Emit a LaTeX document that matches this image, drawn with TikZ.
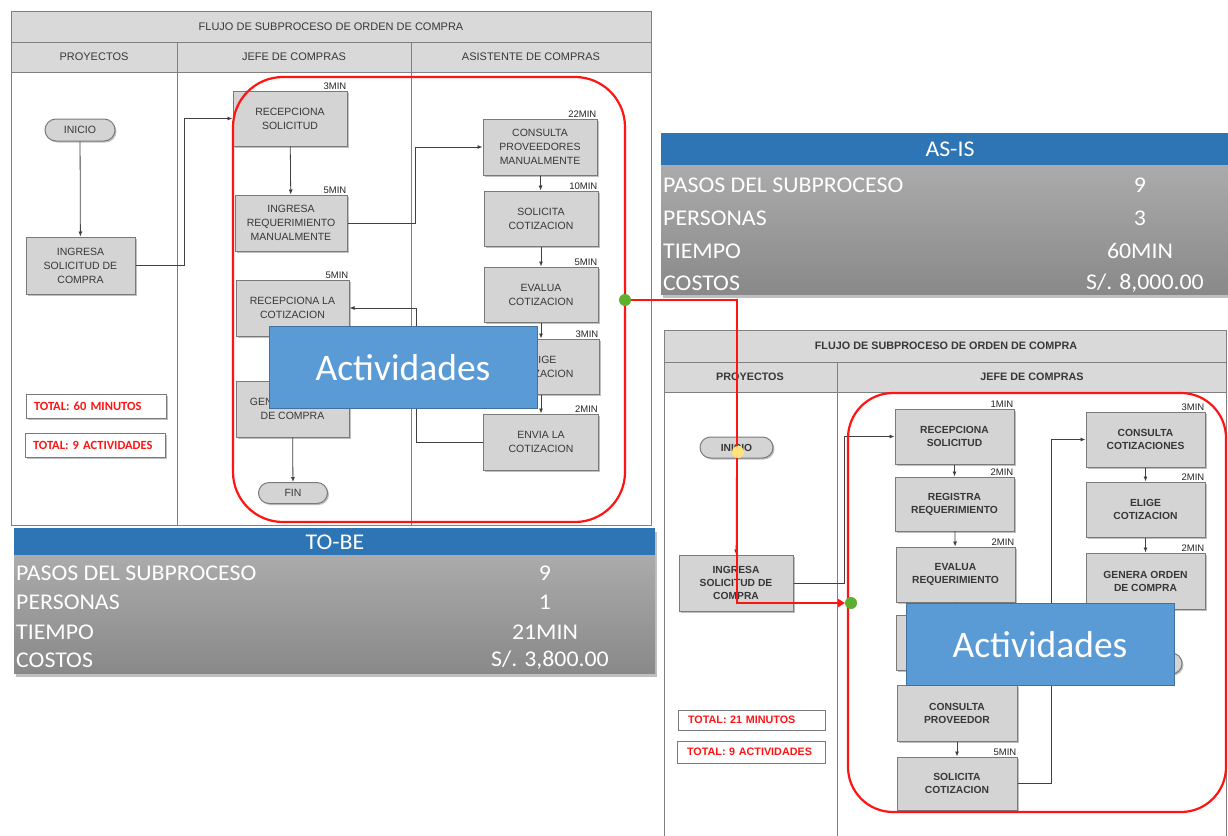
\documentclass[tikz,border=0pt]{standalone}
\usepackage{fontspec}
\setmainfont{Liberation Sans}
\newfontfamily\calib{Carlito}
\newfontfamily\calibw{Carlito}[FakeStretch=1.06]
\usetikzlibrary{shapes.misc,shadows,arrows.meta}
\definecolor{boxfill}{HTML}{D4D4D4}
\definecolor{boxline}{HTML}{7A7A7A}
\definecolor{boxtext}{HTML}{383838}
\definecolor{hdrfill}{HTML}{D9D9D9}
\definecolor{frameline}{HTML}{808080}
\definecolor{connclr}{HTML}{404040}
\definecolor{redclr}{HTML}{FF1414}
\definecolor{tabblue}{HTML}{2E75B6}
\definecolor{tabtop}{HTML}{ABABAB}
\definecolor{tabbot}{HTML}{898989}
\definecolor{actfill}{HTML}{5B9BD5}
\definecolor{actline}{HTML}{41719C}
\definecolor{dotgreen}{HTML}{5DAF2E}
\definecolor{dotyellow}{HTML}{FFE27A}
\begin{document}
\begin{tikzpicture}[x=1pt,y=-1pt,
  shad/.style={drop shadow={shadow xshift=1.5pt,shadow yshift=-1.5pt,opacity=.35,fill=black!70}},
  gbox/.style={rectangle,draw=boxline,fill=boxfill,line width=1pt,align=center,text=boxtext,inner sep=1pt,font=\fontsize{10.5}{14}\selectfont,shad},
  gboxb/.style={gbox,font=\bfseries\fontsize{10.3}{13}\selectfont},
  term/.style={rounded rectangle,draw=boxline,fill=boxfill,line width=1pt,text=boxtext,inner sep=1pt,font=\fontsize{10.5}{12}\selectfont,shad},
  minlab/.style={anchor=south east,inner sep=1pt,text=black!85,font=\fontsize{9.5}{10}\selectfont},
  tmin/.style={label={[minlab]north east:#1}},
  arr/.style={draw=connclr,line width=0.8pt,-{Latex[length=5pt,width=4pt]}},
  frame/.style={draw=frameline,line width=1pt},
  hdr/.style={font=\fontsize{11}{12}\selectfont,text=boxtext},
  hdrb/.style={font=\bfseries\fontsize{10.8}{12}\selectfont,text=boxtext},
  redbox/.style={draw=redclr,line width=2.2pt},
  act/.style={rectangle,draw=actline,fill=actfill,line width=1pt,text=white,font=\calib\fontsize{37.5}{40}\selectfont,minimum width=268,minimum height=82},
  tot/.style={rectangle,draw=boxline,fill=white,line width=1pt,text=redclr,align=left,font=\calib\bfseries\fontsize{12.5}{13}\selectfont,shad},
  totb/.style={rectangle,draw=boxline,fill=white,line width=1pt,text=redclr,align=left,font=\bfseries\fontsize{10.8}{12}\selectfont},
  tabtxt/.style={text=white,font=\calibw\fontsize{22.5}{24}\selectfont,inner sep=0pt},
  gdot/.style={circle,fill=dotgreen,minimum size=12pt,inner sep=0pt},
  ydot/.style={circle,fill=dotyellow,minimum size=12pt,inner sep=0pt}
]
\fill[white] (0,0) rectangle (1228,835);
\useasboundingbox (0,0) rectangle (1228,835);

% ---------------- left chart ----------------
\filldraw[frame,fill=hdrfill] (11,11) rectangle (651,42);
\filldraw[frame,fill=hdrfill] (11,42) rectangle (651,72);
\draw[frame] (11,72) rectangle (651,525);
\draw[frame] (177,42) -- (177,525);
\draw[frame] (411,42) -- (411,525);
\node[hdr] (lt) at (331,27) {FLUJO DE SUBPROCESO DE ORDEN DE COMPRA};
\node[hdr] (lp) at (94,57) {PROYECTOS};
\node[hdr] (lj) at (294,57) {JEFE DE COMPRAS};
\node[hdr] (la) at (531,57) {ASISTENTE DE COMPRAS};

\node[term,minimum width=72,minimum height=22] (ini1) at (80,130) {INICIO};
\node[gbox,minimum width=109,minimum height=57] (ing1) at (80.5,265.5) {INGRESA\\SOLICITUD DE\\COMPRA};
\node[gbox,minimum width=114,minimum height=55,tmin=3MIN] (rec1) at (290,118.5) {RECEPCIONA\\SOLICITUD};
\node[gbox,minimum width=112,minimum height=56,tmin=5MIN] (ireq1) at (291,223) {INGRESA\\REQUERIMIENTO\\MANUALMENTE};
\node[gbox,minimum width=113,minimum height=56,tmin=5MIN] (reccot1) at (292.5,308) {RECEPCIONA LA\\COTIZACION};
\node[gbox,minimum width=113,minimum height=56] (gen1) at (292.5,409) {GENERA ORDEN\\DE COMPRA};
\node[term,minimum width=71,minimum height=21] (fin1) at (293,493) {FIN};
\node[gbox,minimum width=114,minimum height=56,tmin=22MIN] (cons1) at (540,147) {CONSULTA\\PROVEEDORES\\MANUALMENTE};
\node[gbox,minimum width=114,minimum height=55,tmin=10MIN] (sol1) at (541,218.5) {SOLICITA\\COTIZACION};
\node[gbox,minimum width=114,minimum height=55,tmin=5MIN] (eva1) at (541,294.5) {EVALUA\\COTIZACION};
\node[gbox,minimum width=116,minimum height=55,tmin=3MIN] (eli1) at (541,366.5) {ELIGE\\COTIZACION};
\node[gbox,minimum width=115,minimum height=56,tmin=2MIN] (env1) at (541,442) {ENVIA LA\\COTIZACION};

\draw[arr] (ini1) -- (ing1);
\draw[arr] (ing1.east) -- ++(49,0) |- (rec1.west);
\draw[arr] (rec1) -- (ireq1);
\draw[arr] (ireq1.east) -- ++(68,0) |- (cons1.west);
\draw[arr] (cons1) -- (sol1);
\draw[arr] (sol1) -- (eva1);
\draw[arr] (eva1) -- (eli1);
\draw[arr] (eli1) -- (env1);
\draw[arr] (env1.west) -- ++(-67,0) |- (reccot1.east);
\draw[arr] (reccot1) -- (gen1);
\draw[arr] (gen1) -- (fin1);

\node[tot,minimum width=140,minimum height=24,text width=124,inner xsep=8pt] (tm1) at (96,406) {TOTAL: 60 MINUTOS};
\node[tot,minimum width=140,minimum height=24,text width=124,inner xsep=8pt] (ta1) at (95,445) {TOTAL: 9 ACTIVIDADES};

\draw[redbox,rounded corners=50pt] (233,77) rectangle (625,522);

% ---------------- AS-IS table ----------------
\fill[black,opacity=.25] (663,137) rectangle (1228,298);
\fill[tabblue] (661,133) rectangle (1228,165);
\shade[top color=tabtop,bottom color=tabbot] (661,165) rectangle (1228,294);
\node[tabtxt] (ash) at (950,149) {AS-IS};
\node[tabtxt,anchor=west] (as1) at (663,185) {PASOS DEL SUBPROCESO};
\node[tabtxt,anchor=west] (as2) at (663,218) {PERSONAS};
\node[tabtxt,anchor=west] (as3) at (663,251) {TIEMPO};
\node[tabtxt,anchor=west] (as4) at (663,283) {COSTOS};
\node[tabtxt] (av1) at (1140,185) {9};
\node[tabtxt] (av2) at (1140,218) {3};
\node[tabtxt] (av3) at (1140,251) {60MIN};
\node[tabtxt,anchor=east] (av4) at (1204,283) {S/.\hspace{7pt}8,000.00};

% ---------------- TO-BE table ----------------
\fill[black,opacity=.25] (16,532) rectangle (657,677);
\fill[tabblue] (14,528) rectangle (655,555);
\shade[top color=tabtop,bottom color=tabbot] (14,555) rectangle (655,673);
\node[tabtxt] (tbh) at (335,542) {TO-BE};
\node[tabtxt,anchor=west] (tb1) at (16,573) {PASOS DEL SUBPROCESO};
\node[tabtxt,anchor=west] (tb2) at (16,602) {PERSONAS};
\node[tabtxt,anchor=west] (tb3) at (16,632) {TIEMPO};
\node[tabtxt,anchor=west] (tb4) at (16,660) {COSTOS};
\node[tabtxt] (tv1) at (545,573) {9};
\node[tabtxt] (tv2) at (545,602) {1};
\node[tabtxt] (tv3) at (545,632) {21MIN};
\node[tabtxt,anchor=east] (tv4) at (609,660) {S/.\hspace{7pt}3,800.00};

% ---------------- right chart ----------------
\filldraw[frame,fill=hdrfill] (664,330) rectangle (1226,362);
\filldraw[frame,fill=hdrfill] (664,362) rectangle (1226,392);
\draw[frame] (664,392) rectangle (1226,850);
\draw[frame] (837,362) -- (837,850);
\node[hdrb] (rt) at (946,346) {FLUJO DE SUBPROCESO DE ORDEN DE COMPRA};
\node[hdrb] (rp) at (750,377) {PROYECTOS};
\node[hdrb] (rj) at (1032,377) {JEFE DE COMPRAS};

\node[term,font=\bfseries\fontsize{10.3}{12}\selectfont,minimum width=75,minimum height=21] (ini2) at (736.5,447.5) {INICIO};
\node[gboxb,minimum width=114,minimum height=56] (ing2) at (736,583) {INGRESA\\SOLICITUD DE\\COMPRA};
\node[gboxb,minimum width=119,minimum height=55,tmin=1MIN] (rec2) at (954.5,436.5) {RECEPCIONA\\SOLICITUD};
\node[gboxb,minimum width=119,minimum height=54,tmin=2MIN] (reg2) at (954.5,504) {REGISTRA\\REQUERIMIENTO};
\node[gboxb,minimum width=119,minimum height=55,tmin=2MIN] (eva2) at (955.5,574.5) {EVALUA\\REQUERIMIENTO};
\node[gboxb,minimum width=119,minimum height=55] (hid2) at (956,642.5) {};
\node[gboxb,minimum width=120,minimum height=56] (conp2) at (957,713) {CONSULTA\\PROVEEDOR};
\node[gboxb,minimum width=120,minimum height=53,tmin=5MIN] (sol2) at (957,783.5) {SOLICITA\\COTIZACION};
\node[gboxb,minimum width=119,minimum height=55,tmin=3MIN] (ccot2) at (1145.5,439.5) {CONSULTA\\COTIZACIONES};
\node[gboxb,minimum width=119,minimum height=55,tmin=2MIN] (eli2) at (1145.5,509.5) {ELIGE\\COTIZACION};
\node[gboxb,minimum width=119,minimum height=56,tmin=2MIN] (gen2) at (1145.5,581) {GENERA ORDEN\\DE COMPRA};
\node[term,minimum width=74,minimum height=21] (fin2) at (1146,663.5) {};

\draw[arr] (ini2) -- (ing2);
\draw[arr] (ing2.east) -- ++(51,0) |- (rec2.west);
\draw[arr] (rec2) -- (reg2);
\draw[arr] (reg2) -- (eva2);
\draw[arr] (eva2) -- (hid2);
\draw[arr] (hid2) -- (conp2);
\draw[arr] (conp2) -- (sol2);
\draw[arr] (sol2.east) -- ++(34,0) |- (ccot2.west);
\draw[arr] (ccot2) -- (eli2);
\draw[arr] (eli2) -- (gen2);
\draw[arr] (gen2) -- (fin2);

\node[totb,minimum width=147,minimum height=20,text width=127,inner xsep=10pt] (tm2) at (751.5,720) {TOTAL: 21 MINUTOS};
\node[totb,minimum width=148,minimum height=22,text width=128,inner xsep=10pt] (ta2) at (751,752) {TOTAL: 9 ACTIVIDADES};

\draw[redbox,rounded corners=45pt] (848,393) rectangle (1226,812);

% ---------------- red connector ----------------
\coordinate (g1) at (625,300);
\coordinate (rc) at (737,300);
\coordinate (g2) at (851,603);
\draw[draw=redclr,line width=2.2pt,-{Triangle[length=7pt,width=8pt]}] (g1) -- (rc) |- ([xshift=-6pt]g2);
\node[gdot] (gd1) at (g1) {};
\node[gdot] (gd2) at (g2) {};
\node[ydot] (yd) at (738,452) {};

% ---------------- overlays ----------------
\node[act] (act1) at (403,367.5) {Actividades};
\node[act] (act2) at (1040,644.5) {Actividades};
\end{tikzpicture}
\end{document}
